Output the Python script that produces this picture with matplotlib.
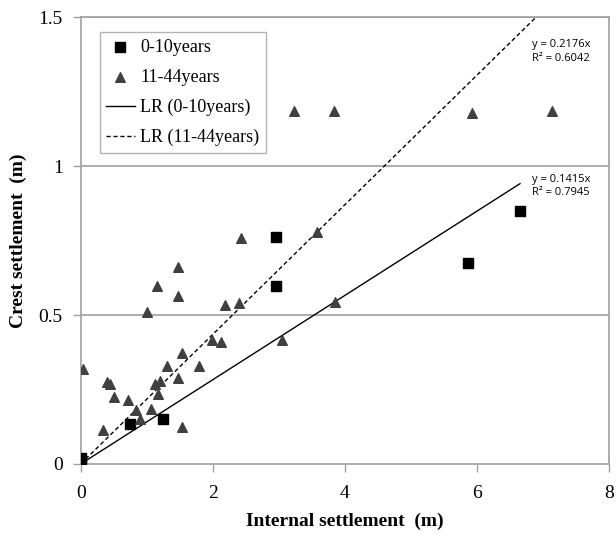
import matplotlib
matplotlib.use("Agg")
import matplotlib.pyplot as plt
import numpy as np

# 0-10 years (squares)
young_x = [0.0, 0.0, 0.74, 1.25, 2.96, 2.96, 5.86, 6.65]
young_y = [0.01, 0.02, 0.133, 0.151, 0.597, 0.762, 0.675, 0.85]

# 11-44 years (triangles)
old_x = [0.03, 0.40, 0.45, 0.50, 0.72, 0.83, 0.90, 0.34, 1.07, 1.00, 1.12, 1.20,
         1.17, 1.31, 1.47, 1.53, 1.53, 1.79, 1.98, 2.12, 2.18, 2.40, 2.42, 1.47,
         1.15, 1.47, 3.05, 3.85, 3.57, 3.23, 3.83, 5.92, 7.13]
old_y = [0.32, 0.276, 0.27, 0.226, 0.215, 0.181, 0.151, 0.114, 0.183, 0.511, 0.27, 0.28,
         0.235, 0.33, 0.288, 0.373, 0.123, 0.33, 0.416, 0.41, 0.533, 0.539, 0.758, 0.662,
         0.598, 0.565, 0.416, 0.543, 0.78, 1.185, 1.185, 1.178, 1.185]

slope_young = 0.1415
r2_young = 0.7945
slope_old = 0.2176
r2_old = 0.6042

x_ticks = [0, 2, 4, 6, 8]
y_ticks = [0, 0.5, 1, 1.5]
y_tick_labels = ["0", "0.5", "1", "1.5"]

fig = plt.figure(figsize=(6.16, 5.43), dpi=100)
ax = fig.add_axes([0.131, 0.1455, 0.858, 0.823])

grey = "#a0a0a0"
ax.set_xlim(0, 8)
ax.set_ylim(0, 1.5)
for y in y_ticks[1:]:
    ax.axhline(y, color=grey, lw=1.2, zorder=0)

ax.scatter(young_x, young_y, marker="s", s=42, color="black", zorder=3, label="0-10years")
ax.scatter(old_x, old_y, marker="^", s=48, color="#404040", zorder=3, label="11-44years")

lx1 = np.array([0, max(young_x)])
ax.plot(lx1, slope_young * lx1, color="black", lw=1.0, label="LR (0-10years)", zorder=2)
lx2 = np.array([0, max(old_x)])
ax.plot(lx2, slope_old * lx2, color="black", lw=1.0, ls=(0, (3, 2)), label="LR (11-44years)", zorder=2)

ax.text(6.83, 1.425, f"y = {slope_old}x\nR² = {r2_old}", fontsize=8,
        family="Open Sans", va="top", ha="left", linespacing=1.3)
ax.text(6.83, 0.975, f"y = {slope_young}x\nR² = {r2_young}", fontsize=8,
        family="Open Sans", va="top", ha="left", linespacing=1.3)

ax.set_xticks(x_ticks)
ax.set_xticklabels([str(t) for t in x_ticks])
ax.set_yticks(y_ticks)
ax.set_yticklabels(y_tick_labels)
ax.tick_params(axis="both", direction="out", length=6, color=grey, width=1.0,
               labelsize=14)
ax.tick_params(axis="y", pad=7)
ax.tick_params(axis="x", pad=9)
for lab in ax.get_xticklabels() + ax.get_yticklabels():
    lab.set_family("Liberation Serif")

for s in ax.spines.values():
    s.set_color(grey)
    s.set_linewidth(1.2)

ax.set_xlabel("Internal settlement  (m)", fontsize=14, fontweight="bold",
              family="Liberation Serif", labelpad=8)
ax.set_ylabel("Crest settlement  (m)", fontsize=14, fontweight="bold",
              family="Liberation Serif", labelpad=8)

leg = ax.legend(loc="upper left", bbox_to_anchor=(0.036, 0.966), frameon=True,
                fancybox=False, edgecolor=grey, prop={"family": "Liberation Serif", "size": 13},
                handlelength=1.6, handletextpad=0.3, borderpad=0.35, labelspacing=0.72,
                borderaxespad=0)
leg.get_frame().set_linewidth(1.0)

fig.savefig("out.png", dpi=100)
